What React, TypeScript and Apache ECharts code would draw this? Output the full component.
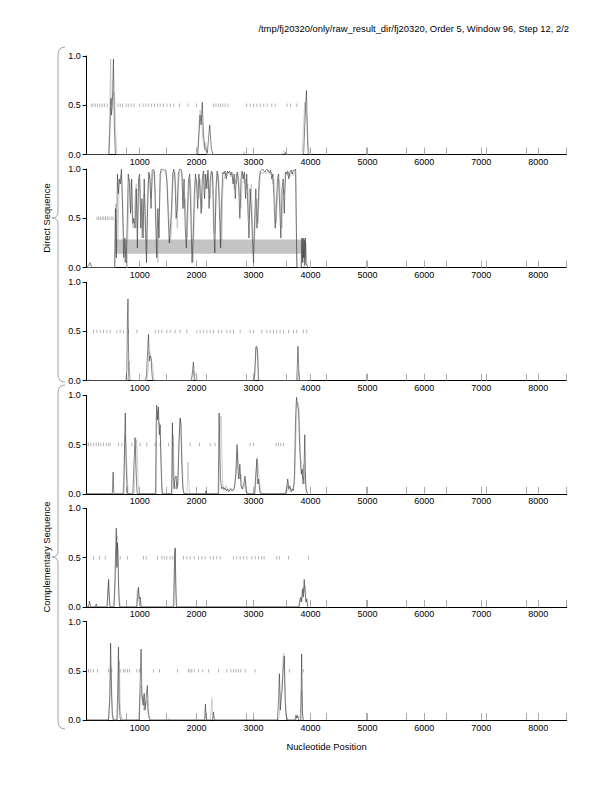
import React, { useEffect, useRef } from "react";
import * as echarts from "echarts";

const TITLE = "/tmp/fj20320/only/raw_result_dir/fj20320, Order 5, Window 96, Step 12, 2/2";
const X_NAME = "Nucleotide Position";
const DIRECT_LABEL = "Direct Sequence";
const COMP_LABEL = "Complementary Sequence";

const X_MIN = 70;
const X_MAX = 8500;
const X_LABELS = [1000, 2000, 3000, 4000, 5000, 6000, 7000, 8000];
const X_MINOR = [772.5, 1475, 2177.5, 2880, 3582.5, 4285, 4987.5, 5690, 6392.5, 7095, 7797.5, 8500];
const Y_TICKS = [0, 0.5, 1];

// black and gray traces per frame
const P1_BLACK = [[70,0],[460,0],[480,0.3],[495,0.57],[505,0.4],[520,0.5],[540,0.97],[555,0.3],[575,0],[2020,0],[2060,0.4],[2080,0.3],[2100,0.53],[2120,0.2],[2150,0.05],[2190,0.02],[2230,0.3],[2260,0.05],[2290,0],[3550,0],[3560,0.02],[3580,0],[3880,0],[3900,0.3],[3915,0.5],[3930,0.65],[3945,0.2],[3960,0]];
const P1_GRAY = [[70,0],[450,0],[470,0.2],[490,0.97],[500,0.5],[520,0.6],[560,0.63],[580,0.2],[600,0],[2000,0],[2030,0.1],[2060,0.45],[2090,0.35],[2110,0.15],[2140,0.05],[2160,0.12],[2190,0],[2820,0],[2840,0.03],[2860,0],[3500,0],[3530,0.04],[3560,0],[3850,0],[3880,0.3],[3900,0.53],[3920,0.4],[3945,0.35],[3960,0.1],[3990,0]];

const P2_BLACK = [[70,0],[100,0.02],[130,0.05],[160,0],[560,0],[575,0.6],[590,0.1],[610,0.95],[625,0.75],[640,0.9],[660,0.85],[680,1.0],[700,0.6],[720,0.1],[740,0.3],[760,0.05],[780,0.4],[800,0.95],[820,0.85],[840,0.55],[860,0.9],[880,0.45],[900,0.5],[920,0.4],[940,0.8],[960,0.2],[980,0.9],[1000,0.95],[1020,0.4],[1040,0.7],[1060,0.3],[1080,0.9],[1100,0.5],[1120,0.05],[1140,0.6],[1160,0.97],[1180,0.9],[1200,0.6],[1220,0.99],[1240,1.0],[1260,0.98],[1280,0.5],[1300,0.1],[1320,0.6],[1340,0.3],[1360,0.95],[1380,1.0],[1400,1.0],[1420,1.0],[1440,0.99],[1460,0.99],[1480,0.85],[1500,0.55],[1520,0.25],[1540,0.4],[1560,0.6],[1580,0.95],[1600,1.0],[1620,0.9],[1640,0.5],[1660,0.6],[1680,0.95],[1700,1.0],[1720,1.0],[1740,0.98],[1760,0.6],[1780,0.9],[1800,0.4],[1820,0.2],[1840,0.6],[1860,0.9],[1880,0.95],[1900,0.5],[1920,0.05],[1940,0.3],[1960,0.75],[1980,0.95],[2000,0.85],[2020,0.6],[2040,0.95],[2060,0.8],[2080,0.55],[2100,0.9],[2120,0.98],[2140,0.7],[2160,0.95],[2180,0.8],[2200,0.99],[2220,0.6],[2240,0.9],[2260,0.98],[2280,0.95],[2300,0.4],[2320,0.15],[2340,0.8],[2360,0.98],[2380,0.9],[2400,0.6],[2420,0.2],[2440,0.7],[2460,0.97],[2480,0.95],[2500,0.98],[2520,0.9],[2540,0.98],[2560,0.96],[2580,0.98],[2600,0.94],[2620,0.97],[2640,0.85],[2660,0.95],[2680,0.7],[2700,0.95],[2720,0.97],[2740,0.8],[2760,0.5],[2780,0.9],[2800,0.98],[2820,0.9],[2840,0.97],[2860,0.7],[2880,0.95],[2900,0.6],[2920,0.3],[2940,0.8],[2960,0.6],[2980,0.3],[3000,0.05],[3020,0.5],[3040,0.8],[3060,0.4],[3080,0.6],[3100,0.9],[3120,0.98],[3140,0.99],[3160,1.0],[3180,0.98],[3200,0.97],[3220,0.99],[3240,1.0],[3260,0.98],[3280,0.96],[3300,0.99],[3320,0.9],[3340,0.95],[3360,0.7],[3380,0.4],[3400,0.6],[3420,0.9],[3440,0.95],[3460,0.6],[3480,0.3],[3500,0.8],[3520,0.9],[3540,0.55],[3560,0.97],[3580,0.95],[3600,0.98],[3620,0.9],[3640,0.97],[3660,0.99],[3680,0.95],[3700,0.99],[3720,0.98],[3740,1.0],[3760,0.0],[3840,0],[3850,0.3],[3860,0.05],[3870,0.3],[3880,0.1],[3890,0.28],[3900,0.02],[3910,0.3],[3920,0.05],[3940,0.02],[3960,0]];
const P2_GRAY = [[70,0],[570,0],[580,0.65],[600,0.2],[620,0.3],[640,0.85],[660,0.9],[680,0.95],[700,0.7],[720,0.3],[740,0.05],[760,0.2],[780,0.0],[800,0.5],[820,0.9],[840,0.85],[860,0.6],[880,0.4],[900,0.45],[920,0.7],[940,0.85],[960,0.4],[980,0.7],[1000,0.9],[1020,0.6],[1040,0.3],[1060,0.5],[1080,0.75],[1100,0.3],[1120,0.2],[1140,0.8],[1160,0.9],[1180,0.95],[1200,0.7],[1220,0.85],[1240,0.98],[1260,0.9],[1280,0.7],[1300,0.3],[1320,0.05],[1340,0.5],[1360,0.85],[1380,0.98],[1400,0.99],[1420,0.98],[1440,0.97],[1460,0.95],[1480,0.9],[1500,0.7],[1520,0.45],[1540,0.25],[1560,0.4],[1580,0.8],[1600,0.95],[1620,0.97],[1640,0.75],[1660,0.4],[1680,0.8],[1700,0.97],[1720,0.98],[1740,0.95],[1760,0.8],[1780,0.6],[1800,0.7],[1820,0.4],[1840,0.3],[1860,0.75],[1880,0.9],[1900,0.8],[1920,0.3],[1940,0.05],[1960,0.5],[1980,0.85],[2000,0.9],[2020,0.8],[2040,0.7],[2060,0.9],[2080,0.75],[2100,0.6],[2120,0.9],[2140,0.95],[2160,0.8],[2180,0.9],[2200,0.95],[2220,0.8],[2240,0.7],[2260,0.95],[2280,0.97],[2300,0.7],[2320,0.35],[2340,0.6],[2360,0.9],[2380,0.95],[2400,0.8],[2420,0.45],[2440,0.2],[2460,0.8],[2480,0.9],[2500,0.95],[2520,0.96],[2540,0.93],[2560,0.97],[2580,0.95],[2600,0.92],[2620,0.95],[2640,0.9],[2660,0.8],[2680,0.9],[2700,0.85],[2720,0.95],[2740,0.9],[2760,0.7],[2780,0.6],[2800,0.9],[2820,0.95],[2840,0.85],[2860,0.9],[2880,0.8],[2900,0.85],[2920,0.5],[2940,0.6],[2960,0.85],[2980,0.5],[3000,0.2],[3020,0.3],[3040,0.6],[3060,0.7],[3080,0.45],[3100,0.75],[3120,0.95],[3140,0.97],[3160,0.95],[3180,0.97],[3200,0.98],[3220,0.95],[3240,0.97],[3260,0.99],[3280,0.97],[3300,0.95],[3320,0.97],[3340,0.85],[3360,0.9],[3380,0.65],[3400,0.45],[3420,0.7],[3440,0.9],[3460,0.85],[3480,0.5],[3500,0.4],[3520,0.8],[3540,0.75],[3560,0.9],[3580,0.97],[3600,0.93],[3620,0.97],[3640,0.92],[3660,0.95],[3680,0.97],[3700,0.93],[3720,0.97],[3740,0.95],[3750,0.5],[3760,0.1],[3780,0],[3830,0],[3840,0.25],[3855,0.1],[3865,0.3],[3880,0.05],[3895,0.3],[3905,0.1],[3920,0.25],[3935,0.05],[3950,0]];

const P3_BLACK = [[70,0],[100,0],[120,0.01],[140,0],[760,0],[775,0.1],[785,0.6],[795,0.83],[805,0.3],[815,0],[1100,0],[1120,0.05],[1140,0.3],[1155,0.47],[1170,0.2],[1185,0.25],[1200,0.23],[1215,0.08],[1230,0],[1900,0],[1920,0.05],[1945,0.19],[1960,0.03],[1980,0],[3000,0],[3020,0.05],[3040,0.34],[3055,0.35],[3070,0.3],[3085,0],[3760,0],[3780,0.35],[3795,0.1],[3810,0],[3960,0]];
const P3_GRAY = [[70,0],[780,0],[800,0.05],[815,0.2],[830,0.03],[845,0],[1120,0],[1150,0.1],[1170,0.3],[1185,0.28],[1210,0.2],[1230,0.15],[1250,0.03],[1270,0],[1930,0],[1950,0.1],[1970,0.05],[2000,0.08],[2010,0],[3010,0],[3030,0.15],[3050,0.34],[3070,0.33],[3090,0.05],[3100,0],[3770,0],[3790,0.1],[3800,0],[3960,0]];

const P4_BLACK = [[70,0],[520,0],[535,0.22],[545,0.02],[560,0],[720,0],[735,0.5],[748,0.82],[760,0.35],[775,0.1],[790,0],[880,0],[900,0.3],[920,0.57],[935,0.3],[950,0.05],[960,0],[1280,0],[1290,0.7],[1300,0.9],[1315,0.75],[1330,0.88],[1345,0.6],[1360,0.7],[1375,0.3],[1390,0.05],[1400,0],[1560,0],[1575,0.72],[1590,0.2],[1605,0.05],[1620,0.15],[1640,0.18],[1655,0.05],[1670,0.1],[1690,0.5],[1710,0.77],[1725,0.7],[1740,0.3],[1760,0.05],[1780,0],[2150,0],[2165,0.03],[2180,0],[2380,0],[2395,0.82],[2410,0.4],[2420,0.15],[2440,0.05],[2460,0.07],[2480,0.04],[2500,0.06],[2520,0.03],[2540,0.05],[2560,0.02],[2600,0.05],[2620,0.03],[2660,0.05],[2690,0.2],[2710,0.5],[2725,0.25],[2740,0.15],[2760,0.3],[2780,0.08],[2800,0.05],[2830,0.1],[2850,0.18],[2870,0.02],[2900,0],[3020,0],[3040,0.2],[3060,0.35],[3075,0.1],[3090,0.15],[3110,0.02],[3130,0],[3560,0],[3580,0.05],[3600,0.15],[3620,0.05],[3640,0.08],[3660,0.02],[3680,0.05],[3700,0.03],[3720,0.2],[3740,0.8],[3755,0.98],[3770,0.9],[3790,0.85],[3810,0.5],[3825,0.3],[3840,0.2],[3855,0.25],[3870,0.1],[3885,0.2],[3900,0.6],[3915,0.1],[3930,0.02],[3950,0]];
const P4_GRAY = [[70,0],[700,0],[725,0.15],[745,0.6],[765,0.45],[780,0.2],[800,0],[900,0],[925,0.3],[945,0.55],[960,0.4],[975,0.1],[990,0],[1290,0],[1300,0.8],[1320,0.85],[1335,0.7],[1350,0.72],[1370,0.5],[1385,0.2],[1400,0],[1570,0],[1590,0.6],[1610,0.1],[1630,0.05],[1650,0.12],[1670,0.08],[1700,0.7],[1720,0.76],[1740,0.5],[1760,0.1],[1780,0],[1830,0],[1850,0.32],[1865,0.1],[1880,0],[2390,0],[2410,0.6],[2430,0.79],[2445,0.4],[2460,0.1],[2480,0.05],[2520,0.08],[2560,0.04],[2600,0.06],[2640,0.03],[2680,0.1],[2700,0.3],[2720,0.45],[2740,0.3],[2760,0.15],[2780,0.2],[2800,0.05],[2830,0.05],[2860,0.15],[2880,0.03],[2900,0],[3020,0],[3040,0.1],[3060,0.37],[3080,0.3],[3100,0.12],[3120,0.05],[3140,0],[3580,0],[3600,0.1],[3620,0.03],[3640,0.06],[3680,0.04],[3720,0.1],[3740,0.5],[3760,0.9],[3780,0.93],[3800,0.88],[3820,0.4],[3840,0.33],[3860,0.15],[3880,0.3],[3895,0.1],[3910,0.2],[3925,0.05],[3950,0]];

const P5_BLACK = [[70,0],[100,0],[120,0.06],[140,0],[220,0],[237,0.03],[250,0],[430,0],[445,0.2],[455,0.28],[465,0.1],[480,0],[550,0],[565,0.25],[580,0.6],[590,0.8],[600,0.4],[610,0.65],[620,0.5],[630,0.2],[640,0.05],[650,0],[950,0],[965,0.1],[980,0.2],[995,0.08],[1010,0.1],[1025,0],[1600,0],[1615,0.55],[1625,0.6],[1635,0.2],[1645,0],[3800,0],[3815,0.06],[3830,0.1],[3845,0.05],[3860,0.18],[3875,0.1],[3890,0.28],[3905,0.15],[3920,0.05],[3935,0.08],[3950,0]];
const P5_GRAY = [[70,0],[420,0],[440,0.1],[455,0.25],[470,0.05],[485,0],[540,0],[560,0.1],[575,0.3],[595,0.7],[610,0.72],[625,0.4],[640,0.1],[660,0],[940,0],[960,0.18],[975,0.15],[990,0.05],[1010,0.08],[1025,0],[1590,0],[1610,0.4],[1622,0.58],[1635,0.25],[1650,0],[3790,0],[3810,0.08],[3830,0.05],[3850,0.1],[3870,0.2],[3885,0.15],[3905,0.22],[3920,0.1],[3940,0.05],[3960,0]];

const P6_BLACK = [[70,0],[450,0],[475,0.2],[490,0.78],[505,0.3],[520,0.05],[540,0],[600,0],[615,0.3],[628,0.74],[640,0.2],[655,0.03],[670,0],[990,0],[1005,0.3],[1025,0.72],[1040,0.25],[1060,0.15],[1080,0.27],[1095,0.1],[1110,0.2],[1135,0.35],[1150,0.1],[1170,0.02],[1190,0],[1500,0],[1520,0.01],[1540,0],[2140,0],[2155,0.16],[2165,0.02],[2180,0],[2280,0],[2295,0.08],[2310,0.02],[2325,0],[2980,0],[3000,0.01],[3020,0],[3420,0],[3440,0.2],[3455,0.47],[3470,0.1],[3485,0.2],[3500,0.3],[3520,0.5],[3540,0.65],[3555,0.2],[3570,0.05],[3590,0],[3730,0],[3745,0.05],[3760,0.02],[3775,0.04],[3790,0],[3830,0],[3845,0.67],[3858,0.1],[3870,0]];
const P6_GRAY = [[70,0],[460,0],[480,0.3],[492,0.55],[505,0.4],[520,0.1],[535,0],[610,0],[625,0.2],[645,0.6],[660,0.1],[675,0.05],[690,0],[995,0],[1010,0.2],[1030,0.35],[1045,0.2],[1060,0.25],[1075,0.1],[1090,0.18],[1110,0.15],[1130,0.2],[1150,0.05],[1175,0],[2240,0],[2255,0.1],[2268,0.22],[2285,0.05],[2300,0],[3440,0],[3460,0.1],[3480,0.28],[3500,0.3],[3515,0.6],[3530,0.68],[3545,0.6],[3560,0.2],[3580,0.05],[3600,0],[3750,0],[3770,0.06],[3790,0.02],[3820,0.03],[3840,0.3],[3850,0.28],[3860,0.05],[3875,0]];

// start-codon style markers at the 0.5 level
const P1_MARKS = [150,180,220,260,300,340,380,430,620,660,700,760,800,850,900,1000,1060,1110,1160,1210,1260,1310,1360,1420,1480,1540,1600,1700,1850,2000,2300,2340,2380,2420,2460,2500,2550,2880,2940,3000,3060,3120,3180,3240,3320,3380,3590,3650,3760];
const P2_MARKS = [250,280,310,340,370,400,430,460,500,530];
const P3_MARKS = [190,249,307,366,424,483,600,658,717,805,951,1273,1331,1390,1477,1536,1624,1711,1828,2004,2062,2121,2180,2238,2297,2384,2443,2531,2589,2648,2765,2940,2999,3145,3233,3291,3350,3408,3467,3525,3613,3701,3759,3876,3935];
const P4_MARKS = [102,143,190,237,278,319,366,412,453,483,629,688,863,1009,1126,1273,1360,1507,1594,1887,2051,2238,2326,2940,2999,3397,3438,3479,3525];
const P5_MARKS = [190,295,395,658,787,1068,1115,1314,1390,1431,1477,1536,1583,1770,1828,1887,1957,2033,2092,2150,2238,2297,2356,2414,2648,2706,2765,2823,2882,2970,3028,3087,3145,3186,3408,3455,3613,3964];
const P6_MARKS = [102,143,190,260,453,512,658,717,746,787,822,951,998,1243,1349,1665,1858,1887,1916,1957,2033,2109,2209,2384,2531,2601,2648,2694,2735,2776,2852,3028,3630,3876];

// shaded band in frame 2: [xStart, yLow, xEnd, yHigh]
const P2_BAND = [570, 0.14, 3850, 0.285];

const BLACK_TRACES = [P1_BLACK, P2_BLACK, P3_BLACK, P4_BLACK, P5_BLACK, P6_BLACK];
const GRAY_TRACES = [P1_GRAY, P2_GRAY, P3_GRAY, P4_GRAY, P5_GRAY, P6_GRAY];
const MARKS = [P1_MARKS, P2_MARKS, P3_MARKS, P4_MARKS, P5_MARKS, P6_MARKS];

const FONT = "'Liberation Sans', Arial, Helvetica, sans-serif";

export default function App() {
  const ref = useRef<HTMLDivElement>(null);
  useEffect(() => {
    if (!ref.current) return;
    const chart = echarts.init(ref.current, null, { renderer: "svg" });
    const LEFT = 86.7;
    const WIDTH = 480;
    const TOP0 = 56;
    const STEP = 113.1;
    const H = 98.5;
    const grids: any[] = [];
    const xAxes: any[] = [];
    const yAxes: any[] = [];
    const series: any[] = [];
    for (let i = 0; i < 6; i++) {
      grids.push({ left: LEFT, top: TOP0 + STEP * i, width: WIDTH, height: H, containLabel: false });
      xAxes.push({
        gridIndex: i, type: "value", min: X_MIN, max: X_MAX,
        axisLine: { show: true, onZero: false, lineStyle: { color: "#000", width: 1 } },
        axisTick: { show: true, inside: true, length: 7, customValues: [...X_LABELS, ...X_MINOR], lineStyle: { color: "#aaa", width: 1 } },
        axisLabel: { show: true, customValues: X_LABELS, fontSize: 9, color: "#000", margin: 3, fontFamily: FONT, formatter: (v: number) => String(v) },
        splitLine: { show: false },
      });
      yAxes.push({
        gridIndex: i, type: "value", min: 0, max: 1, interval: 0.5,
        axisLine: { show: true, lineStyle: { color: "#000", width: 1 } },
        axisTick: { show: true, length: 4, customValues: Y_TICKS, lineStyle: { color: "#000" } },
        axisLabel: { fontSize: 9, color: "#000", margin: 6, fontFamily: FONT, formatter: (v: number) => v.toFixed(1) },
        splitLine: { show: false },
      });
      if (i === 1) {
        series.push({
          type: "line", xAxisIndex: i, yAxisIndex: i, data: [], z: 1, silent: true,
          markArea: {
            silent: true,
            itemStyle: { color: "#c4c4c4" },
            data: [[{ xAxis: P2_BAND[0], yAxis: P2_BAND[1] }, { xAxis: P2_BAND[2], yAxis: P2_BAND[3] }]],
          },
        });
      }
      series.push({
        type: "scatter", xAxisIndex: i, yAxisIndex: i, silent: true, z: 2,
        symbol: "rect", symbolSize: [0.9, 3.5],
        itemStyle: { color: "#999" },
        data: MARKS[i].map((x) => [x, 0.5]),
      });
      series.push({
        type: "line", xAxisIndex: i, yAxisIndex: i, silent: true, z: 3,
        showSymbol: false, symbol: "none",
        lineStyle: { color: "#b0b0b0", width: 0.6 },
        data: GRAY_TRACES[i],
      });
      series.push({
        type: "line", xAxisIndex: i, yAxisIndex: i, silent: true, z: 4,
        showSymbol: false, symbol: "none",
        lineStyle: { color: "#333", width: 0.6 },
        data: BLACK_TRACES[i],
      });
    }

    const braceStroke = { stroke: "#999", lineWidth: 0.9, fill: null };
    const brace = (top: number, mid: number, bottom: number) => [
      { type: "bezierCurve", shape: { x1: 65, y1: top, cpx1: 58, cpy1: top, x2: 58, y2: top + 8 }, style: braceStroke },
      { type: "line", shape: { x1: 58, y1: top + 8, x2: 58, y2: mid - 6 }, style: braceStroke },
      { type: "bezierCurve", shape: { x1: 58, y1: mid - 6, cpx1: 58, cpy1: mid, x2: 52, y2: mid }, style: braceStroke },
      { type: "bezierCurve", shape: { x1: 52, y1: mid, cpx1: 58, cpy1: mid, x2: 58, y2: mid + 6 }, style: braceStroke },
      { type: "line", shape: { x1: 58, y1: mid + 6, x2: 58, y2: bottom - 8 }, style: braceStroke },
      { type: "bezierCurve", shape: { x1: 58, y1: bottom - 8, cpx1: 58, cpy1: bottom, x2: 65, y2: bottom }, style: braceStroke },
    ];

    chart.setOption({
      animation: false,
      backgroundColor: "#fff",
      grid: grids,
      xAxis: xAxes,
      yAxis: yAxes,
      series,
      graphic: [
        { type: "text", x: 569, y: 28, style: { text: TITLE, font: `9.4px ${FONT}`, fill: "#000", textAlign: "right", textVerticalAlign: "middle" } },
        { type: "text", x: 326.5, y: 746, style: { text: X_NAME, font: `9.4px ${FONT}`, fill: "#000", textAlign: "center", textVerticalAlign: "middle" } },
        { type: "text", x: 46, y: 218, rotation: Math.PI / 2, style: { text: DIRECT_LABEL, font: `9.4px ${FONT}`, fill: "#000", textAlign: "center", textVerticalAlign: "middle" } },
        { type: "text", x: 46, y: 557, rotation: Math.PI / 2, style: { text: COMP_LABEL, font: `9.4px ${FONT}`, fill: "#000", textAlign: "center", textVerticalAlign: "middle" } },
        ...brace(47, 218, 382),
        ...brace(385, 557, 729),
      ],
    });
    return () => chart.dispose();
  }, []);
  return <div ref={ref} style={{ position: "absolute", left: 0, top: 0, width: 612, height: 792, background: "#fff" }} />;
}
